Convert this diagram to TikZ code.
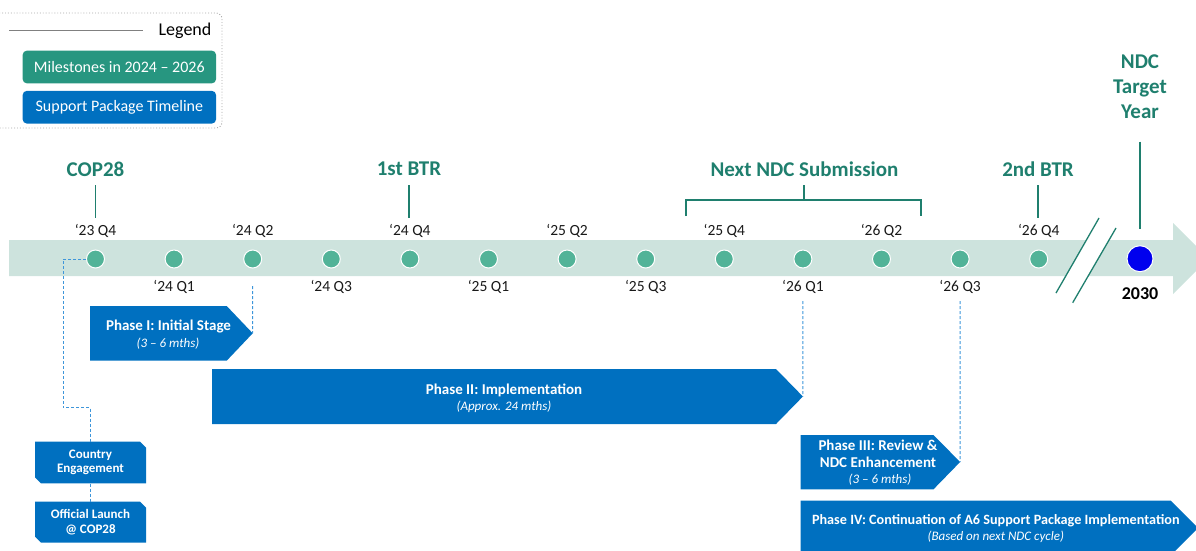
\documentclass[tikz,border=0pt]{standalone}
\usepackage{fontspec}
\setmainfont{Carlito}
\usetikzlibrary{calc}
\definecolor{tealh}{HTML}{1F7F6E}
\definecolor{dotg}{HTML}{52B398}
\definecolor{bandc}{HTML}{CDE3DD}
\definecolor{legg}{HTML}{279680}
\definecolor{pblue}{HTML}{0070C0}
\definecolor{dashb}{HTML}{3E96DA}
\definecolor{navyd}{HTML}{0000EE}
\begin{document}
\begin{tikzpicture}[x=1pt,y=-1pt,
  qlab/.style={font=\fontsize{15.5}{18}\selectfont, text=black!90, inner sep=0},
  mhead/.style={font=\bfseries\fontsize{21}{25}\selectfont, text=tealh, inner sep=0, align=center},
  tickline/.style={draw=tealh, line width=1.4pt},
  qdot/.style={circle, fill=dotg, draw=white, line width=1pt, minimum size=18pt, inner sep=0},
  dconn/.style={draw=dashb, line width=1pt, dash pattern=on 3pt off 2pt},
  ptitle/.style={font=\bfseries\fontsize{15}{17}\selectfont, text=white, inner sep=0, align=center},
  psub/.style={font=\itshape\fontsize{13}{15}\selectfont, text=white, inner sep=0},
  sbox/.style={font=\bfseries\fontsize{13}{14.5}\selectfont, text=white, inner sep=0, align=center, minimum width=111pt, minimum height=41.6pt},
  legbox/.style={rounded corners=4pt, minimum width=193.3pt, minimum height=32.6pt, inner sep=0, text=white, font=\fontsize{16}{18}\selectfont}
]
\useasboundingbox (0,0) rectangle (1196,550);

% legend
\draw[gray!70, dotted, line width=0.9pt, rounded corners=6pt] (-10,13) rectangle (222,128);
\draw[gray, line width=1pt] (9,30) -- (143,30);
\node[font=\fontsize{18}{20}\selectfont, inner sep=0] (legt) at (185,31) {Legend};
\node[legbox, fill=legg] (leg1) at (119.35,67) {Milestones in 2024 – 2026};
\node[legbox, fill=pblue] (leg2) at (119.35,107.2) {Support Package Timeline};

% band
\fill[bandc] (9,240) -- (1173,240) -- (1173,223) -- (1208.5,258.5) -- (1173,294) -- (1173,276) -- (9,276) -- cycle;
% break
\fill[white] (1099,218) -- (1116,228) -- (1072.7,302.7) -- (1056,293) -- cycle;
\draw[tickline, line width=1.3pt] (1099,218) -- (1056,293);
\draw[tickline, line width=1.3pt] (1116,228) -- (1072.7,302.7);

% dots and labels
\foreach \i in {0,...,12} {
  \node[qdot] (d\i) at ({95.5+78.6*\i},259) {};
}
\foreach \i/\t in {0/‘23 Q4, 2/‘24 Q2, 4/‘24 Q4, 6/‘25 Q2, 8/‘25 Q4, 10/‘26 Q2, 12/‘26 Q4} {
  \node[qlab] (q\i) at ([yshift=28pt]d\i.center) {\t};
}
\foreach \i/\t in {1/‘24 Q1, 3/‘24 Q3, 5/‘25 Q1, 7/‘25 Q3, 9/‘26 Q1, 11/‘26 Q3} {
  \node[qlab] (q\i) at ([yshift=-28pt]d\i.center) {\t};
}
\node[circle, fill=navyd, draw=white, line width=1pt, minimum size=26pt, inner sep=0] (d2030) at (1140,258.7) {};
\node[font=\bfseries\fontsize{18}{20}\selectfont, inner sep=0] (y2030) at (1140,293.5) {2030};

% milestone headings
\node[mhead] (hcop) at (95.5,169) {COP28};
\node[mhead] (hbtr1) at (409,169) {1st BTR};
\node[mhead] (hndc) at (804.5,169) {Next NDC Submission};
\node[mhead] (hbtr2) at (1038,169) {2nd BTR};
\node[mhead] (htar) at (1140,87) {NDC\\Target\\Year};
\draw[tickline] (95.5,185) -- (95.5,217.7);
\draw[tickline] (409,185) -- (409,217.7);
\draw[tickline] (1038,185) -- (1038,217.7);
\draw[tickline] (804,185) -- (804,200);
\draw[tickline] (686,216) -- (686,200) -- (921,200) -- (921,216);
\draw[tickline] (1140,141.7) -- (1140,229);

% phases
\fill[pblue] (90,306) -- (226.7,306) -- (252.7,333.3) -- (226.7,360.7) -- (90,360.7) -- cycle;
\coordinate (p1tip) at (252.7,333.3);
\node[ptitle] (p1t) at (168.5,326.7) {Phase I: Initial Stage};
\node[psub] (p1s) at (168,343.5) {(3 – 6 mths)};

\fill[pblue] (212,369) -- (776,369) -- (802.9,396.5) -- (776,424) -- (212,424) -- cycle;
\coordinate (p2tip) at (802.9,396.5);
\node[ptitle] (p2t) at (504,390) {Phase II: Implementation};
\node[psub] (p2s) at (504,407) {(Approx. 24 mths)};

\fill[pblue] (800.7,435) -- (933.5,435) -- (960.1,462) -- (933.5,489.3) -- (800.7,489.3) -- cycle;
\coordinate (p3tip) at (960.1,462);
\node[ptitle] (p3t) at (878,453.7) {Phase III: Review \&\\NDC Enhancement};
\node[psub] (p3s) at (880,480) {(3 – 6 mths)};

\fill[pblue] (800.7,500.7) -- (1170.7,500.7) -- (1198,528) -- (1170.7,555.3) -- (800.7,555.3) -- cycle;
\node[ptitle, font=\bfseries\fontsize{14.2}{17}\selectfont] (p4t) at (995.8,520.7) {Phase IV: Continuation of A6 Support Package Implementation};
\node[psub] (p4s) at (995.8,536.7) {(Based on next NDC cycle)};

% small boxes
\fill[pblue] (35,441.7) -- (140,441.7) -- (146,447.7) -- (146,483.3) -- (41,483.3) -- (35,477.3) -- cycle;
\node[sbox] (ce) at (90.5,462.5) {Country\\Engagement};
\fill[pblue] (35,501.7) -- (140,501.7) -- (146,507.7) -- (146,542.7) -- (41,542.7) -- (35,536.7) -- cycle;
\node[sbox, minimum height=41pt] (ol) at (90.5,522.2) {Official Launch\\@ COP28};

% dashed connectors
\draw[dconn] (d0.west) -- (63,259) -- (63,407.7) -- (90.5,407.7) -- (ce.north);
\draw[dconn] (ce.south) -- (ol.north);
\draw[dconn] ($(d2.center)+(0,27)$) -- (p1tip);
\draw[dconn] ($(d9.center)+(0,42)$) -- (p2tip);
\draw[dconn] ($(d11.center)+(0,42)$) -- (p3tip);
\end{tikzpicture}
\end{document}
